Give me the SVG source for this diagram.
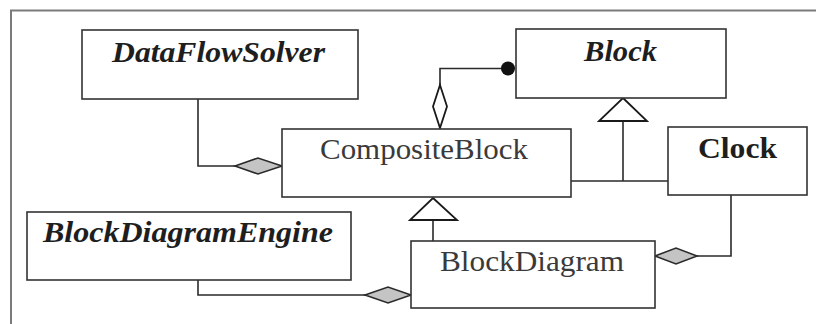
<svg xmlns="http://www.w3.org/2000/svg" width="816" height="324" viewBox="0 0 816 324">
  <style>
    .box { fill: #ffffff; stroke: #333333; stroke-width: 1.6; }
    .line { fill: none; stroke: #2a2a2a; stroke-width: 1.6; }
    .agg { fill: #c4c4c4; stroke: #2a2a2a; stroke-width: 1.6; }
    .hollow { fill: #ffffff; stroke: #1a1a1a; stroke-width: 1.8; }
    .abstract { font-family: "Liberation Serif", "Times New Roman", serif; font-weight: bold; font-style: italic; font-size: 29px; fill: #1e1e1e; }
    .concrete { font-family: "Liberation Serif", "Times New Roman", serif; font-size: 30px; fill: #3a3a3a; }
    .strong { font-family: "Liberation Serif", "Times New Roman", serif; font-weight: bold; font-size: 30px; fill: #1e1e1e; }
  </style>
  <rect width="816" height="324" fill="#ffffff"/>

  <!-- outer frame (top and left edges) -->
  <path d="M11,324 V10.5 H816" fill="none" stroke="#7a7a7a" stroke-width="2"/>

  <g id="connectors">
    <!-- DataFlowSolver to CompositeBlock -->
    <polyline class="line" points="198,99 198,166 235,166"/>
    <polygon class="agg" points="235,166 258,158 282,166 258,174"/>
    <!-- CompositeBlock contains Block -->
    <polyline class="line" points="440,85 440,68.5 508,68.5"/>
    <polygon class="hollow" points="440,85 447,106.5 440,128 433,106.5"/>
    <circle cx="508" cy="68.5" r="7" fill="#111111"/>
    <!-- generalizations to Block -->
    <polyline class="line" points="571,181 668,181"/>
    <line class="line" x1="623" y1="121" x2="623" y2="181"/>
    <polygon class="hollow" points="623,98 647,121 599,121"/>
    <!-- BlockDiagram to CompositeBlock -->
    <line class="line" x1="433" y1="220" x2="433" y2="241"/>
    <polygon class="hollow" points="433,198 457,220 410,220"/>
    <!-- BlockDiagramEngine to BlockDiagram -->
    <polyline class="line" points="198,280 198,295 365,295"/>
    <polygon class="agg" points="365,295 388,287 411,295 388,303"/>
    <!-- Clock to BlockDiagram -->
    <polyline class="line" points="731,195 731,256 697,256"/>
    <polygon class="agg" points="655,256 676,248 697,256 676,264"/>
  </g>

  <g id="DataFlowSolver">
    <rect class="box" x="82" y="30" width="276" height="69"/>
    <text class="abstract" x="112" y="62" textLength="213" lengthAdjust="spacingAndGlyphs">DataFlowSolver</text>
  </g>

  <g id="Block">
    <rect class="box" x="516" y="29" width="210" height="69"/>
    <text class="abstract" x="584" y="61" textLength="73" lengthAdjust="spacingAndGlyphs">Block</text>
  </g>

  <g id="CompositeBlock">
    <rect class="box" x="282" y="129" width="289" height="68"/>
    <text class="concrete" x="320" y="159" textLength="208" lengthAdjust="spacingAndGlyphs">CompositeBlock</text>
  </g>

  <g id="Clock">
    <rect class="box" x="668" y="127" width="139" height="68"/>
    <text class="strong" x="698" y="158" textLength="79" lengthAdjust="spacingAndGlyphs">Clock</text>
  </g>

  <g id="BlockDiagramEngine">
    <rect class="box" x="27" y="212" width="324" height="68"/>
    <text class="abstract" x="43" y="242" textLength="290" lengthAdjust="spacingAndGlyphs">BlockDiagramEngine</text>
  </g>

  <g id="BlockDiagram">
    <rect class="box" x="411" y="241" width="244" height="67"/>
    <text class="concrete" x="440" y="271" textLength="184" lengthAdjust="spacingAndGlyphs">BlockDiagram</text>
  </g>
</svg>
